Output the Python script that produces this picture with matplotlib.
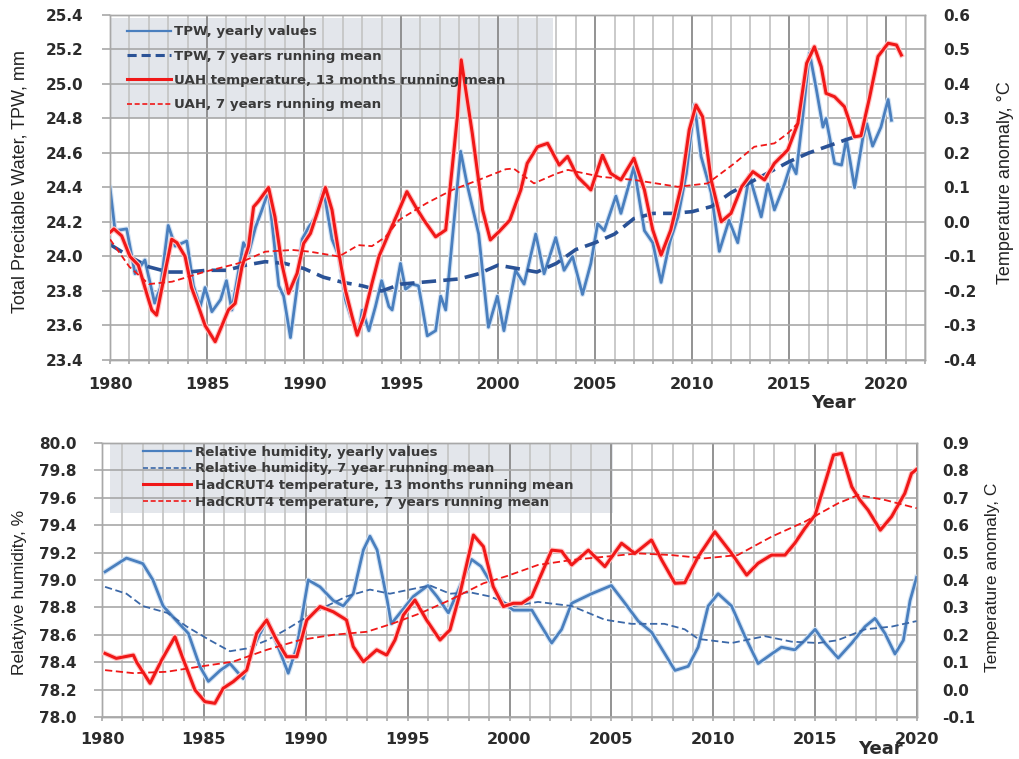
import numpy as np
import matplotlib
matplotlib.use('Agg')
import matplotlib.pyplot as plt
from matplotlib.patches import Rectangle
from matplotlib.lines import Line2D
import matplotlib.patheffects as pe
from matplotlib.ticker import MultipleLocator, FuncFormatter

plt.rcParams['axes.unicode_minus'] = False

# ---------------- top panel data ----------------
tpw_years = [1980.0, 1980.26, 1980.86, 1981.29, 1981.8, 1982.3, 1982.6, 1983.0, 1983.36, 1983.96,
             1984.3, 1984.65, 1984.9, 1985.25, 1985.7, 1986.0, 1986.28, 1986.88, 1987.15, 1987.5,
             1987.83, 1988.17, 1988.7, 1988.95, 1989.3, 1989.64, 1989.9, 1990.24, 1990.6, 1991.0,
             1991.44, 1991.8, 1992.13, 1992.48, 1992.83, 1993.0, 1993.34, 1993.68, 1994.0, 1994.37,
             1994.54, 1994.97, 1995.23, 1995.57, 1995.9, 1996.35, 1996.78, 1997.04, 1997.3, 1997.64,
             1998.07, 1998.4, 1999.0, 1999.5, 1999.96, 2000.3, 2000.9, 2001.34, 2001.94, 2002.37,
             2002.97, 2003.4, 2003.84, 2004.35, 2004.78, 2005.13, 2005.47, 2006.07, 2006.33, 2007.0,
             2007.54, 2007.97, 2008.4, 2008.84, 2009.27, 2009.7, 2010.12, 2010.46, 2010.98, 2011.4,
             2011.9, 2012.35, 2012.95, 2013.56, 2013.9, 2014.24, 2014.76, 2015.1, 2015.36, 2015.7,
             2016.05, 2016.4, 2016.74, 2016.9, 2017.34, 2017.7, 2017.95, 2018.37, 2018.8, 2019.0,
             2019.3, 2019.73, 2020.1, 2020.27]
tpw_values = [24.40, 24.15, 24.16, 23.90, 23.98, 23.73, 23.82, 24.18, 24.06, 24.09,
              23.83, 23.71, 23.82, 23.68, 23.75, 23.86, 23.69, 24.08, 24.02, 24.17,
              24.27, 24.38, 23.83, 23.77, 23.53, 23.82, 24.10, 24.17, 24.23, 24.39,
              24.10, 24.00, 23.75, 23.63, 23.57, 23.69, 23.57, 23.71, 23.86, 23.71,
              23.69, 23.96, 23.81, 23.84, 23.83, 23.54, 23.57, 23.77, 23.69, 24.10,
              24.61, 24.42, 24.13, 23.59, 23.77, 23.57, 23.92, 23.84, 24.13, 23.90,
              24.11, 23.92, 24.00, 23.78, 23.96, 24.19, 24.15, 24.35, 24.25, 24.52,
              24.15, 24.08, 23.85, 24.08, 24.23, 24.48, 24.88, 24.58, 24.37, 24.03,
              24.21, 24.08, 24.47, 24.23, 24.42, 24.27, 24.42, 24.54, 24.48, 24.81,
              25.18, 24.97, 24.75, 24.80, 24.54, 24.53, 24.68, 24.40, 24.69, 24.77,
              24.64, 24.75, 24.91, 24.79]

tpw7_years = [1980, 1981, 1982, 1983, 1984, 1985, 1986, 1987, 1988, 1989, 1990, 1991, 1992,
              1993, 1994, 1995, 1996, 1997, 1998, 1999, 2000, 2001, 2002, 2003, 2004, 2005,
              2006, 2007, 2008, 2009, 2010, 2011, 2012, 2013, 2014, 2015, 2016, 2017, 2018, 2018.6]
tpw7_values = [24.07, 24.00, 23.94, 23.91, 23.91, 23.92, 23.92, 23.95, 23.97, 23.96, 23.93, 23.88,
               23.85, 23.83, 23.80, 23.84, 23.85, 23.86, 23.87, 23.90, 23.95, 23.93, 23.91, 23.96,
               24.04, 24.08, 24.13, 24.22, 24.25, 24.25, 24.26, 24.29, 24.37, 24.43, 24.49, 24.55,
               24.60, 24.64, 24.68, 24.70]

uah_years = [1980.0, 1980.2, 1980.6, 1981.03, 1981.46, 1981.8, 1982.15, 1982.4, 1982.75, 1983.18,
             1983.45, 1983.87, 1984.2, 1984.56, 1984.9, 1985.42, 1985.77, 1986.1, 1986.45, 1986.8,
             1987.14, 1987.4, 1987.65, 1988.17, 1988.5, 1988.85, 1989.2, 1989.64, 1989.98, 1990.33,
             1990.67, 1991.1, 1991.44, 1991.79, 1992.13, 1992.48, 1992.74, 1993.08, 1993.5, 1993.86,
             1994.37, 1994.9, 1995.3, 1995.75, 1996.17, 1996.78, 1997.3, 1997.64, 1997.9, 1998.1,
             1998.67, 1999.2, 1999.6, 2000.05, 2000.6, 2001.17, 2001.5, 2002.03, 2002.55, 2003.15,
             2003.58, 2004.1, 2004.78, 2005.38, 2005.8, 2006.33, 2007.0, 2007.54, 2007.97, 2008.4,
             2008.9, 2009.43, 2009.85, 2010.2, 2010.54, 2010.98, 2011.5, 2012.0, 2012.55, 2013.13,
             2013.73, 2014.24, 2014.93, 2015.45, 2015.9, 2016.3, 2016.65, 2016.9, 2017.34, 2017.85,
             2018.37, 2018.7, 2019.15, 2019.58, 2020.1, 2020.53, 2020.78]
uah_values = [-0.03, -0.02, -0.04, -0.10, -0.125, -0.19, -0.255, -0.27, -0.17, -0.05,
              -0.06, -0.10, -0.19, -0.245, -0.30, -0.347, -0.30, -0.255, -0.236, -0.13,
              -0.07, 0.044, 0.06, 0.10, 0.015, -0.12, -0.207, -0.149, -0.062, -0.033,
              0.025, 0.10, 0.035, -0.09, -0.197, -0.275, -0.328, -0.275, -0.178, -0.10,
              -0.033, 0.035, 0.088, 0.044, 0.006, -0.043, -0.023, 0.16, 0.305, 0.47,
              0.257, 0.035, -0.052, -0.028, 0.005, 0.093, 0.17, 0.218, 0.228, 0.165,
              0.19, 0.131, 0.093, 0.194, 0.141, 0.122, 0.185, 0.093, -0.023, -0.096,
              -0.023, 0.102, 0.267, 0.339, 0.305, 0.122, 0.001, 0.025, 0.102, 0.146,
              0.122, 0.17, 0.209, 0.286, 0.46, 0.508, 0.45, 0.373, 0.363, 0.334,
              0.247, 0.25, 0.363, 0.48, 0.518, 0.513, 0.484]

uah7_years = [1980, 1981, 1982, 1983.2, 1984.9, 1986.6, 1988, 1989.4, 1990.3, 1991.8, 1992.8,
              1993.5, 1994.2, 1994.9, 1996.3, 1997.64, 1999.0, 2000.4, 2000.8, 2001.85, 2003.0,
              2003.6, 2005.3, 2007.0, 2009.27, 2010.8, 2012.18, 2013.2, 2014.24, 2014.93, 2015.62]
uah7_values = [-0.05, -0.13, -0.18, -0.173, -0.144, -0.12, -0.086, -0.081, -0.086, -0.10, -0.067,
               -0.07, -0.043, 0.006, 0.054, 0.093, 0.122, 0.153, 0.155, 0.112, 0.14,
               0.151, 0.131, 0.122, 0.102, 0.112, 0.17, 0.218, 0.228, 0.257, 0.296]

# ---------------- bottom panel data ----------------
rh_years = [1980.15, 1981.2, 1982.0, 1982.5, 1983.0, 1983.67, 1984.24, 1984.8, 1985.22, 1985.8,
            1986.28, 1986.93, 1987.43, 1988.1, 1988.57, 1989.14, 1989.56, 1990.12, 1990.7, 1991.35,
            1991.84, 1992.33, 1992.83, 1993.15, 1993.5, 1994.0, 1994.2, 1994.63, 1995.28, 1996.0,
            1996.44, 1997.0, 1997.5, 1998.14, 1998.6, 1999.2, 1999.7, 2000.2, 2001.1, 2001.58,
            2002.07, 2002.56, 2003.05, 2004.03, 2005.0, 2005.67, 2006.32, 2006.97, 2007.63, 2008.12,
            2008.77, 2009.26, 2009.75, 2010.24, 2010.9, 2011.55, 2012.2, 2012.86, 2013.35, 2014.0,
            2014.5, 2015.0, 2015.48, 2016.13, 2016.8, 2017.45, 2017.94, 2018.43, 2018.92, 2019.33,
            2019.66, 2019.98]
rh_values = [79.06, 79.16, 79.12, 79.00, 78.81, 78.70, 78.61, 78.37, 78.26, 78.34,
             78.39, 78.28, 78.51, 78.71, 78.54, 78.32, 78.51, 79.00, 78.95, 78.85,
             78.81, 78.90, 79.22, 79.32, 79.22, 78.85, 78.68, 78.76, 78.88, 78.96,
             78.88, 78.76, 78.93, 79.15, 79.10, 78.95, 78.83, 78.78, 78.78, 78.66,
             78.54, 78.64, 78.83, 78.90, 78.96, 78.83, 78.70, 78.62, 78.46, 78.34,
             78.37, 78.51, 78.81, 78.90, 78.81, 78.59, 78.39, 78.46, 78.51, 78.49,
             78.56, 78.64, 78.54, 78.43, 78.54, 78.66, 78.72, 78.61, 78.46, 78.56,
             78.85, 79.02]

rh7_years = [1980.15, 1981.2, 1982.0, 1983.2, 1984.16, 1985.3, 1986.28, 1987.1, 1988.1, 1989.06,
             1990.05, 1991.03, 1992.0, 1993.15, 1994.13, 1995.1, 1996.1, 1997.08, 1998.06, 1999.04,
             2000.2, 2001.4, 2003.05, 2004.68, 2005.99, 2007.6, 2008.6, 2009.26, 2010.9, 2012.53,
             2013.84, 2015.15, 2016.1, 2017.45, 2018.76, 2019.98]
rh7_values = [78.95, 78.90, 78.81, 78.76, 78.66, 78.56, 78.48, 78.50, 78.56, 78.64,
              78.73, 78.81, 78.88, 78.93, 78.90, 78.93, 78.96, 78.90, 78.91, 78.88,
              78.81, 78.84, 78.81, 78.71, 78.68, 78.68, 78.64, 78.57, 78.54, 78.59,
              78.55, 78.54, 78.56, 78.64, 78.66, 78.70]

had_years = [1980.15, 1980.7, 1981.54, 1981.7, 1982.36, 1982.93, 1983.58, 1984.0, 1984.56, 1985.05,
             1985.54, 1985.95, 1986.44, 1987.1, 1987.59, 1988.08, 1988.57, 1989.06, 1989.56, 1990.05,
             1990.7, 1991.35, 1992.0, 1992.33, 1992.83, 1993.48, 1993.97, 1994.38, 1994.79, 1995.36,
             1995.93, 1996.59, 1997.08, 1997.57, 1998.23, 1998.72, 1999.2, 1999.7, 2000.19, 2000.6,
             2001.09, 2001.58, 2002.07, 2002.56, 2003.05, 2003.87, 2004.68, 2005.5, 2006.15, 2006.97,
             2007.47, 2008.12, 2008.6, 2009.26, 2010.08, 2010.9, 2011.64, 2012.2, 2012.86, 2013.52,
             2014.0, 2014.5, 2015.0, 2015.48, 2015.9, 2016.3, 2016.8, 2017.2, 2017.6, 2018.2,
             2018.75, 2019.4, 2019.73, 2020.05]
had_values = [0.132, 0.114, 0.126, 0.100, 0.023, 0.108, 0.193, 0.108, -0.001, -0.044,
              -0.050, 0.005, 0.029, 0.071, 0.205, 0.254, 0.181, 0.120, 0.120, 0.254,
              0.303, 0.284, 0.254, 0.157, 0.102, 0.145, 0.126, 0.181, 0.272, 0.327,
              0.254, 0.181, 0.218, 0.351, 0.564, 0.522, 0.376, 0.303, 0.315, 0.315,
              0.339, 0.424, 0.509, 0.505, 0.455, 0.509, 0.449, 0.534, 0.497, 0.546,
              0.473, 0.388, 0.390, 0.485, 0.576, 0.497, 0.418, 0.461, 0.491, 0.491,
              0.534, 0.589, 0.637, 0.753, 0.856, 0.862, 0.740, 0.692, 0.655, 0.582,
              0.631, 0.716, 0.789, 0.808]

had7_years = [1980.15, 1981.54, 1983.17, 1984.8, 1986.44, 1988.08, 1989.72, 1991.35, 1993.0, 1994.3,
              1995.6, 1997.08, 1998.72, 1999.9, 2001.4, 2003.05, 2004.68, 2006.32, 2007.95, 2009.58,
              2011.2, 2012.86, 2014.5, 2016.13, 2017.12, 2018.43, 2019.98]
had7_values = [0.071, 0.060, 0.065, 0.084, 0.102, 0.145, 0.181, 0.200, 0.211, 0.242,
               0.278, 0.327, 0.388, 0.415, 0.455, 0.473, 0.485, 0.497, 0.491, 0.479,
               0.491, 0.558, 0.613, 0.680, 0.710, 0.692, 0.662]

top_labels = ['TPW, yearly values', 'TPW, 7 years running mean',
              'UAH temperature, 13 months running mean', 'UAH, 7 years running mean']
bot_labels = ['Relative humidity, yearly values', 'Relative humidity, 7 year running mean',
              'HadCRUT4 temperature, 13 months running mean', 'HadCRUT4 temperature, 7 years running mean']

# ---------------- styling ----------------
W, H = 1019, 759
BLUE = '#4a7fbe'
NAVY = '#2a5296'
BLUE_D = '#3b68a8'
RED = '#f01818'
GRID_MAJ = '#8a8a8a'
GRID_MIN = '#c6c6c6'
GRID_H = '#a8a8a8'
TXT = '#2b2b2b'
LEG_BG = '#e3e6eb'

fig = plt.figure(figsize=(W / 100, H / 100), dpi=100)
fig.patch.set_facecolor('white')

glow_red = [pe.Stroke(linewidth=3.8, foreground='#ffc4c4'), pe.Normal()]
glow_blue = [pe.Stroke(linewidth=3.6, foreground='#d3e3f4'), pe.Normal()]
fmt1 = FuncFormatter(lambda v, p: f"{v:.1f}")
fmt0 = FuncFormatter(lambda v, p: f"{v:.0f}")


def style_axes(ax, axr, xmax, y_pad_left, y_pad_right, x_pad):
    ax.set_xlim(1980, xmax)
    ax.xaxis.set_major_locator(MultipleLocator(5))
    ax.xaxis.set_minor_locator(MultipleLocator(1))
    ax.xaxis.set_major_formatter(fmt0)
    ax.set_axisbelow(True)
    ax.grid(which='minor', axis='x', color=GRID_MIN, lw=1.3)
    ax.grid(which='major', axis='x', color=GRID_MAJ, lw=1.3)
    ax.grid(which='major', axis='y', color=GRID_H, lw=1.2)
    for a in (ax, axr):
        for s in a.spines.values():
            s.set_color(GRID_H)
            s.set_linewidth(1.0)
    ax.tick_params(axis='y', which='major', length=6, width=1.2, color=GRID_H,
                   pad=y_pad_left, labelsize=11, labelcolor=TXT)
    ax.tick_params(axis='x', which='both', length=3, width=1.2, color=GRID_H,
                   pad=x_pad, labelsize=11.5, labelcolor=TXT)
    axr.tick_params(axis='y', which='major', length=0, pad=y_pad_right,
                    labelsize=11, labelcolor=TXT)
    for lab in ax.get_xticklabels() + ax.get_yticklabels() + axr.get_yticklabels():
        lab.set_fontweight('bold')
        lab.set_family('DejaVu Sans')


leg_prop = {'family': 'DejaVu Sans', 'weight': 'bold', 'size': 9.6}

# ---------------- top panel ----------------
ax1 = fig.add_axes([110 / W, 1 - 360 / H, 815 / W, 345 / H])
ax1.set_ylim(23.4, 25.4)
ax1.yaxis.set_major_locator(MultipleLocator(0.2))
ax1.yaxis.set_major_formatter(fmt1)
ax1r = ax1.twinx()
ax1r.set_ylim(-0.4, 0.6)
ax1r.yaxis.set_major_locator(MultipleLocator(0.1))
ax1r.yaxis.set_major_formatter(fmt1)

ax1.add_patch(Rectangle((0.0, 0.70), 0.544, 0.291, transform=ax1.transAxes,
                        facecolor=LEG_BG, edgecolor='none', zorder=0.3))

ax1.plot(tpw_years, tpw_values, color=BLUE, lw=2.0, path_effects=glow_blue, zorder=3)
ax1.plot(tpw7_years, tpw7_values, color=NAVY, lw=2.6, dashes=(4, 2), zorder=3)
ax1r.plot(uah_years, uah_values, color=RED, lw=2.2, path_effects=glow_red, zorder=4)
ax1r.plot(uah7_years, uah7_values, color=RED, lw=1.3, dashes=(3.5, 2), zorder=4)

style_axes(ax1, ax1r, 2022, 13, 13, 9)

h1 = [Line2D([], [], color=BLUE, lw=1.6),
      Line2D([], [], color=NAVY, lw=2.2, dashes=(3, 1.6)),
      Line2D([], [], color=RED, lw=2.2),
      Line2D([], [], color=RED, lw=1.2, dashes=(3, 1.6))]
leg1 = ax1r.legend(h1, top_labels, loc='upper left',
                   bbox_to_anchor=(0.021, 0.97), frameon=False, borderpad=0,
                   borderaxespad=0, handlelength=3.3, handletextpad=0.2,
                   labelspacing=0.85, prop=leg_prop)
for t in leg1.get_texts():
    t.set_color('#3a3a3a')

fig.text(20 / W, 1 - 182 / H, 'Total Precitable Water, TPW, mm', rotation=90,
         ha='center', va='center', fontsize=13, family='Liberation Sans', color='#222222')
fig.text(1005 / W, 1 - 183 / H, 'Temperature anomaly, °C', rotation=90,
         ha='center', va='center', fontsize=13, family='Liberation Sans', color='#222222')
fig.text(833 / W, 1 - 403 / H, 'Year', ha='center', va='center', fontsize=13,
         fontweight='bold', family='DejaVu Sans', color=TXT)

# ---------------- bottom panel ----------------
ax2 = fig.add_axes([102 / W, 1 - 717 / H, 815 / W, 274 / H])
ax2.set_ylim(78.0, 80.0)
ax2.yaxis.set_major_locator(MultipleLocator(0.2))
ax2.yaxis.set_major_formatter(fmt1)
ax2r = ax2.twinx()
ax2r.set_ylim(-0.1, 0.9)
ax2r.yaxis.set_major_locator(MultipleLocator(0.1))
ax2r.yaxis.set_major_formatter(fmt1)

ax2.add_patch(Rectangle((0.01, 0.745), 0.617, 0.255, transform=ax2.transAxes,
                        facecolor=LEG_BG, edgecolor='none', zorder=0.3))

ax2.plot(rh_years, rh_values, color=BLUE, lw=2.0, path_effects=glow_blue, zorder=3)
ax2.plot(rh7_years, rh7_values, color=BLUE_D, lw=1.3, dashes=(4, 2), zorder=3)
ax2r.plot(had_years, had_values, color=RED, lw=2.2, path_effects=glow_red, zorder=4)
ax2r.plot(had7_years, had7_values, color=RED, lw=1.3, dashes=(4, 2), zorder=4)

style_axes(ax2, ax2r, 2020, 12, 18, 8)

h2 = [Line2D([], [], color=BLUE, lw=1.6),
      Line2D([], [], color=BLUE_D, lw=1.2, dashes=(3, 1.6)),
      Line2D([], [], color=RED, lw=2.2),
      Line2D([], [], color=RED, lw=1.2, dashes=(3, 1.6))]
leg2 = ax2r.legend(h2, bot_labels, loc='upper left',
                   bbox_to_anchor=(0.05, 0.99), frameon=False, borderpad=0,
                   borderaxespad=0, handlelength=3.6, handletextpad=0.3,
                   labelspacing=0.27, prop=leg_prop)
for t in leg2.get_texts():
    t.set_color('#3a3a3a')

fig.text(20 / W, 1 - 592 / H, 'Relatyive humidity, %', rotation=90,
         ha='center', va='center', fontsize=12.5, family='Liberation Sans', color='#222222')
fig.text(992 / W, 1 - 577 / H, 'Temperature anomaly, C', rotation=90,
         ha='center', va='center', fontsize=12.5, family='Liberation Sans', color='#222222')
fig.text(880 / W, 1 - 749 / H, 'Year', ha='center', va='center', fontsize=13,
         fontweight='bold', family='DejaVu Sans', color=TXT)

fig.savefig('out.png', dpi=100, facecolor='white')
